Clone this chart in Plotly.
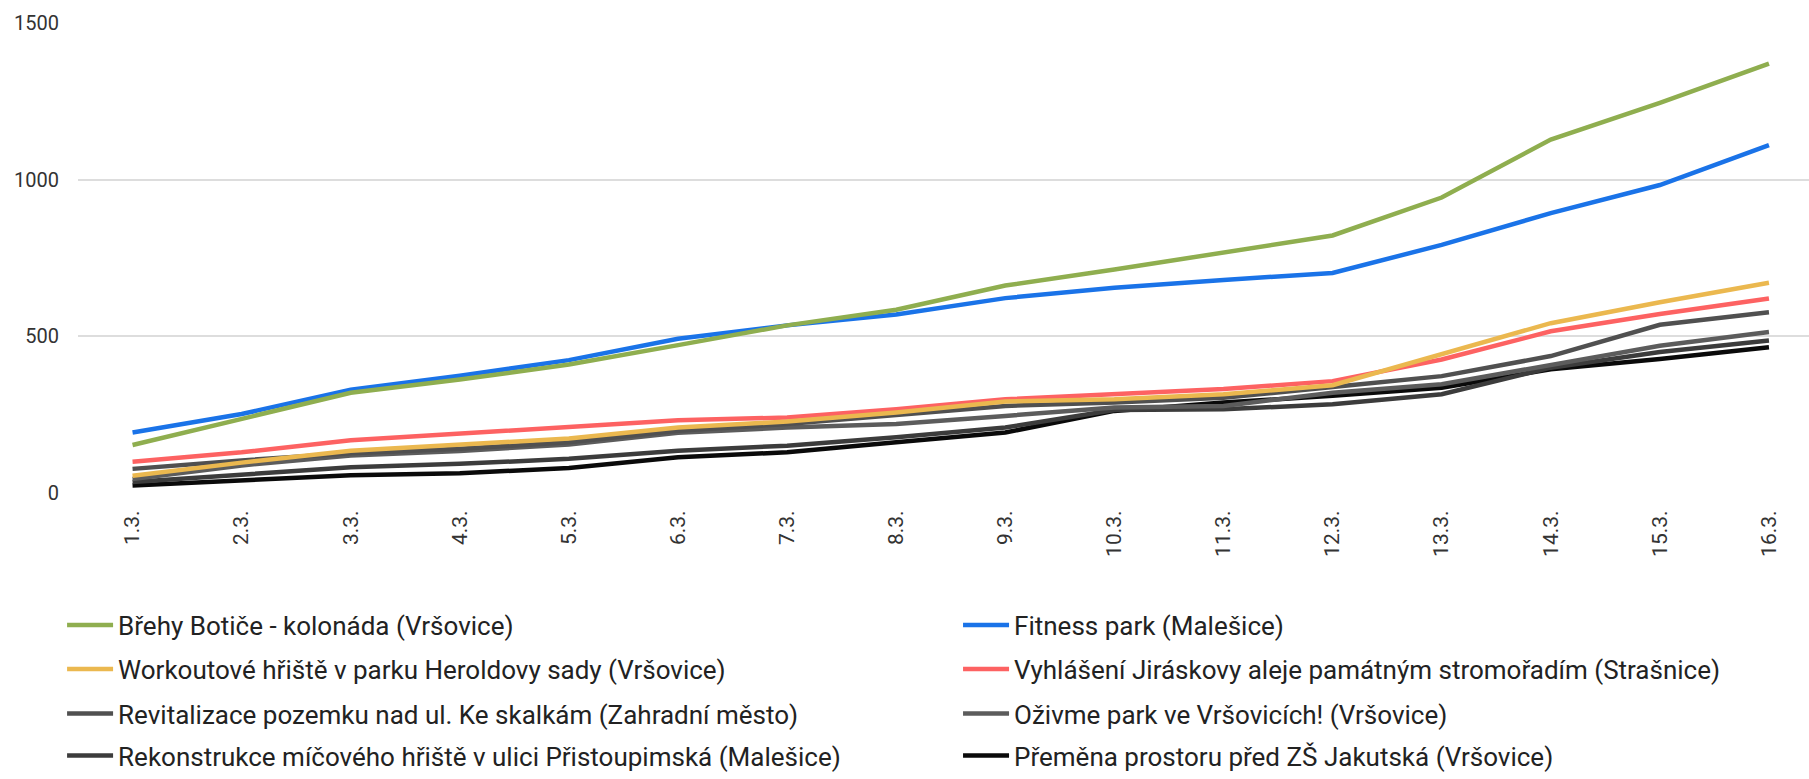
import plotly.graph_objects as go

days = ["1.3.", "2.3.", "3.3.", "4.3.", "5.3.", "6.3.", "7.3.", "8.3.",
        "9.3.", "10.3.", "11.3.", "12.3.", "13.3.", "14.3.", "15.3.", "16.3."]

brehy_botice = [153, 235, 320, 362, 410, 472, 535, 585, 662, 713, 768, 822, 943, 1128, 1245, 1370]
fitness_park = [193, 252, 330, 374, 424, 492, 535, 570, 622, 655, 680, 702, 792, 893, 983, 1110]
workout_heroldovy = [55, 97, 135, 155, 174, 209, 228, 257, 292, 299, 315, 344, 442, 542, 609, 671]
jiraskova_alej = [100, 130, 168, 190, 209, 232, 241, 267, 299, 316, 332, 357, 426, 516, 571, 621]
revitalizace_skalky = [77, 104, 127, 141, 162, 199, 220, 250, 278, 289, 304, 338, 373, 437, 537, 577]
zivme_park = [45, 88, 120, 134, 155, 192, 209, 220, 246, 273, 278, 320, 347, 410, 470, 514]
rekonstrukce_hriste = [35, 58, 82, 93, 109, 135, 151, 178, 209, 265, 267, 283, 315, 400, 450, 487]
premena_jakutska = [24, 42, 57, 63, 80, 114, 130, 162, 193, 262, 289, 310, 336, 395, 428, 465]

names = [
    "Břehy Botiče - kolonáda (Vršovice)",
    "Fitness park (Malešice)",
    "Workoutové hřiště v parku Heroldovy sady (Vršovice)",
    "Vyhlášení Jiráskovy aleje památným stromořadím (Strašnice)",
    "Revitalizace pozemku nad ul. Ke skalkám (Zahradní město)",
    "Oživme park ve Vršovicích! (Vršovice)",
    "Rekonstrukce míčového hřiště v ulici Přistoupimská (Malešice)",
    "Přeměna prostoru před ZŠ Jakutská (Vršovice)",
]
series = [brehy_botice, fitness_park, workout_heroldovy, jiraskova_alej,
          revitalizace_skalky, zivme_park, rekonstrukce_hriste, premena_jakutska]
colors = ["#8fae4f", "#1a73e8", "#ebb84f", "#fd6262",
          "#505050", "#5c5c5c", "#3c3c3c", "#0a0a0a"]

fig = go.Figure()

# bottom series first so the top ones are drawn over them
for i in reversed(range(len(series))):
    fig.add_trace(go.Scatter(
        x=days, y=series[i], name=names[i], mode="lines",
        line=dict(color=colors[i], width=4.5),
        legend="legend" if i == 0 else "legend%d" % (i + 1),
    ))

# one legend box per entry: 2 columns x 4 rows under the chart
col_x = [-0.0092, 0.5084]
row_y = [-0.2812, -0.3745, -0.4694, -0.5588]
legends = {}
for i in range(len(names)):
    key = "legend" if i == 0 else "legend%d" % (i + 1)
    legends[key] = dict(
        x=col_x[i % 2], y=row_y[i // 2], xanchor="left", yanchor="middle",
        orientation="h", itemwidth=46, bgcolor="rgba(0,0,0,0)",
        font=dict(family="Roboto", size=26, color="#222222"),
    )

fig.update_layout(
    width=1809, height=779,
    margin=dict(l=78, r=0, t=23, b=283),
    plot_bgcolor="white", paper_bgcolor="white",
    font=dict(family="Roboto", size=20, color="#333333"),
    showlegend=True,
    **legends,
)
fig.update_xaxes(type="category", range=[-0.5, 15.367], showgrid=False,
                 tickangle=-90, tickfont=dict(size=21), ticks="outside", ticklen=8,
                 tickcolor="rgba(0,0,0,0)", showline=False, zeroline=False)
fig.update_yaxes(range=[0, 1500], tickvals=[0, 500, 1000, 1500],
                 gridcolor="#dddddd", gridwidth=1.5, zeroline=False,
                 ticks="outside", ticklen=14, tickcolor="rgba(0,0,0,0)")

# page body has an 8px default margin, drop it so the figure fills the window
fig.write_html("out.html", config={"displayModeBar": False},
               post_script="document.body.style.margin='0';")
